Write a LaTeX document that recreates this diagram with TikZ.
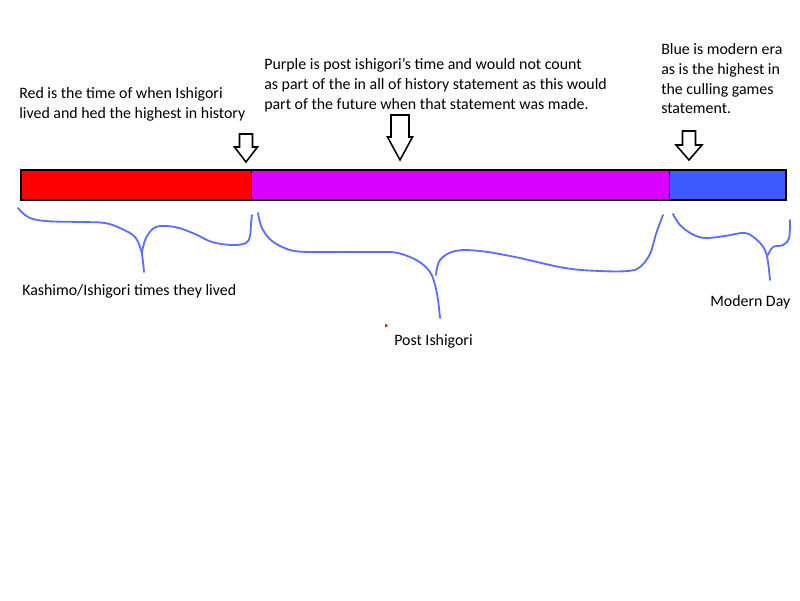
\documentclass[tikz,border=0pt]{standalone}
\usepackage{fontspec}
\setmainfont{Carlito}
\usetikzlibrary{positioning}
\definecolor{eraRed}{HTML}{FF0000}
\definecolor{eraPurple}{HTML}{D900FF}
\definecolor{eraBlue}{HTML}{3F5BFF}
\definecolor{braceBlue}{HTML}{5B6EFF}

\begin{document}
\begin{tikzpicture}[
  x=0.025cm, y=-0.025cm,
  font=\fontsize{11.3}{14}\selectfont,
  seg/.style={rectangle, draw=black, fill=#1, line width=0.5pt,
              inner sep=0pt, minimum height=0.75cm},
  note/.style={anchor=north west, inner sep=0pt, align=left},
  hollow/.style={draw=black, fill=white, line width=1.1pt, line join=miter},
  brace/.style={draw=braceBlue, line width=1.3pt, line cap=round, line join=round}
]
\useasboundingbox (0,0) rectangle (800,600);

% ===== the timeline bar =====
\node[seg=eraRed, minimum width=5.75cm] (redEra) at (136,185) {};
\node[seg=eraPurple, minimum width=10.425cm, right=0pt of redEra] (purpleEra) {};
\node[seg=eraBlue, minimum width=2.9cm, right=0pt of purpleEra] (blueEra) {};
\draw[line width=1.4pt] (redEra.north west) rectangle (blueEra.south east);

% ===== notes above the bar =====
\node[note] (redNote) at (19,87)
  {Red is the time of when Ishigori\\lived and hed the highest in history};
\node[note] (purpleNote) at (264,58.5)
  {Purple is post ishigori's time and would not count\\as part of the in all of history statement as this would\\part of the future when that statement was made.};
\node[note] (blueNote) at (661,43.5)
  {Blue is modern era\\as is the highest in\\the culling games\\statement.};

% ===== hollow arrows pointing at the bar =====
\coordinate (tipA) at (246,162);
\coordinate (tipB) at (400,160);
\coordinate (tipC) at (689,160);
\draw[hollow] (tipA) -- ++(-11.5,-15) -- ++(5,0) -- ++(0,-13) -- ++(13,0)
  -- ++(0,13) -- ++(5,0) -- cycle;
\draw[hollow] (tipB) -- ++(-12.5,-23) -- ++(3.5,0) -- ++(0,-22) -- ++(18,0)
  -- ++(0,22) -- ++(3.5,0) -- cycle;
\draw[hollow] (tipC) -- ++(-13,-15) -- ++(6.5,0) -- ++(0,-14) -- ++(13,0)
  -- ++(0,14) -- ++(6.5,0) -- cycle;

% ===== hand-drawn braces under the bar =====
\draw[brace] plot[smooth, tension=0.6] coordinates {(18,208) (28,217) (45,221)
  (80,222) (105,223) (122,229) (135,237) (141,250) (143,262) (144,272)};
\draw[brace] plot[smooth, tension=0.6] coordinates {(142,252) (146,238) (156,227)
  (175,227) (195,234) (212,242) (232,245) (246,243) (250,236) (251,224) (252,215)};

\draw[brace] plot[smooth, tension=0.6] coordinates {(258,213) (262,228) (272,241)
  (290,250) (310,252) (350,252) (380,252) (398,253) (418,261) (430,272) (435,285)
  (438,300) (440,318)};
\draw[brace] plot[smooth, tension=0.6] coordinates {(436,275) (440,260) (455,251)
  (480,251) (515,257) (565,268) (600,271) (628,271) (640,267) (650,254) (656,234)
  (663,215)};

\draw[brace] plot[smooth, tension=0.6] coordinates {(673,214) (680,225) (692,234)
  (705,238) (725,236) (745,233) (757,240) (765,250) (768,262) (770,280)};
\draw[brace] plot[smooth, tension=0.6] coordinates {(768,255) (773,247) (783,245)
  (789,238) (790,220)};

% ===== labels under the braces =====
\node[note] (redLabel) at (22,284.5) {Kashimo/Ishigori times they lived};
\node[note] (purpleLabel) at (394,334.5) {Post Ishigori};
\node[note] (blueLabel) at (710,295.5) {Modern Day};

% stray red mark
\fill[eraRed] (385,323.5) -- (388,325.5) -- (385,327.5) -- cycle;

\end{tikzpicture}
\end{document}
